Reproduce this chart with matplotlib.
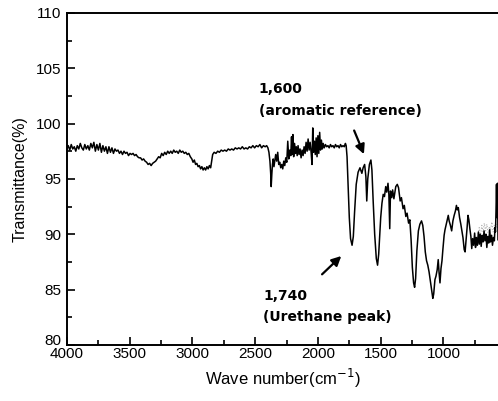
import matplotlib

matplotlib.use("Agg")
import matplotlib.pyplot as plt
from matplotlib.ticker import MultipleLocator
from matplotlib.transforms import ScaledTranslation

# FTIR spectrum, wavenumber (cm-1) / transmittance (%)
wavenumber = [
    4000, 3988, 3976, 3964, 3952, 3940, 3928, 3916, 3904, 3892,
    3880, 3868, 3856, 3844, 3832, 3820, 3808, 3796, 3784, 3772,
    3760, 3748, 3736, 3724, 3712, 3700, 3688, 3676, 3664, 3652,
    3640, 3628, 3616, 3604, 3592, 3580, 3568, 3556, 3544, 3532,
    3520, 3508, 3496, 3484, 3472, 3460, 3448, 3436, 3424, 3412,
    3400, 3388, 3376, 3364, 3352, 3340, 3328, 3316, 3304, 3292,
    3280, 3268, 3256, 3244, 3232, 3220, 3208, 3196, 3184, 3172,
    3160, 3148, 3136, 3124, 3112, 3100, 3088, 3076, 3064, 3052,
    3040, 3028, 3016, 3004, 2994, 2984, 2974, 2964, 2954, 2944,
    2934, 2924, 2914, 2904, 2894, 2884, 2874, 2864, 2854, 2846,
    2838, 2826, 2812, 2798, 2784, 2770, 2756, 2742, 2728, 2714,
    2700, 2686, 2672, 2658, 2644, 2630, 2616, 2602, 2588, 2574,
    2560, 2546, 2532, 2518, 2504, 2490, 2476, 2462, 2448, 2434,
    2420, 2408, 2398, 2390, 2382, 2376, 2372, 2367, 2362, 2356,
    2350, 2344, 2336, 2328, 2320, 2312, 2304, 2296, 2288, 2280,
    2272, 2264, 2256, 2248, 2240, 2232, 2224, 2216, 2210, 2205,
    2199, 2193, 2186, 2179, 2172, 2165, 2158, 2150, 2142, 2134,
    2126, 2118, 2110, 2102, 2094, 2086, 2078, 2070, 2062, 2054,
    2047, 2041, 2035, 2028, 2021, 2014, 2007, 2000, 1993, 1986,
    1979, 1972, 1965, 1958, 1950, 1940, 1930, 1920, 1910, 1900,
    1890, 1880, 1870, 1860, 1850, 1840, 1830, 1820, 1810, 1800,
    1790, 1781, 1775, 1768, 1760, 1750, 1740, 1728, 1718, 1708,
    1695, 1680, 1665, 1650, 1640, 1628, 1618, 1611, 1603, 1590,
    1578, 1570, 1560, 1548, 1535, 1525, 1516, 1500, 1490, 1480,
    1470, 1460, 1452, 1442, 1435, 1428, 1422, 1412, 1405, 1395,
    1380, 1368, 1358, 1345, 1335, 1322, 1312, 1300, 1290, 1278,
    1268, 1258, 1248, 1238, 1230, 1222, 1212, 1200, 1188, 1175,
    1165, 1155, 1145, 1135, 1125, 1115, 1105, 1095, 1085, 1078,
    1068, 1060, 1050, 1042, 1035, 1028, 1020, 1012, 1005, 995,
    988, 978, 970, 962, 955, 945, 935, 925, 915, 905,
    897, 890, 882, 872, 862, 855, 845, 835, 828, 820,
    812, 805, 798, 790, 782, 775, 768, 760, 752, 745,
    738, 730, 722, 715, 708, 700, 692, 685, 677, 670,
    662, 655, 647, 640, 632, 625, 617, 610, 602, 595,
    590, 586, 582, 578, 574, 570, 566,
]
transmittance = [
    97.7, 98.0, 97.6, 98.1, 97.7, 97.9, 97.5, 98.0, 97.7, 98.2,
    97.8, 97.6, 98.1, 97.7, 98.0, 97.6, 98.2, 97.8, 98.3, 97.5,
    98.1, 97.6, 98.2, 97.4, 98.0, 97.5, 97.9, 97.3, 97.9, 97.4,
    97.8, 97.3, 97.7, 97.5, 97.6, 97.3, 97.5, 97.2, 97.5, 97.3,
    97.4, 97.1, 97.3, 97.2, 97.3, 97.1, 97.2, 97.0, 96.9, 96.9,
    96.7, 96.8, 96.6, 96.5, 96.3, 96.4, 96.2, 96.4, 96.5, 96.6,
    96.8, 97.0, 96.9, 97.3, 97.1, 97.4, 97.2, 97.5, 97.3, 97.5,
    97.3, 97.6, 97.4, 97.5, 97.3, 97.6, 97.4, 97.5, 97.3, 97.4,
    97.2, 97.3, 97.0, 96.8, 96.5, 96.7, 96.3, 96.4, 96.1, 96.2,
    95.9, 96.1, 95.8, 96.0, 95.8, 96.1, 95.9, 96.2, 96.0, 96.6,
    97.2, 97.4, 97.3, 97.5, 97.4, 97.6, 97.5, 97.6, 97.5, 97.7,
    97.6, 97.7, 97.6, 97.8, 97.7, 97.8, 97.7, 97.9, 97.7, 97.8,
    97.7, 97.9, 97.8, 98.0, 97.8, 98.0, 97.9, 98.1, 97.8, 98.0,
    97.9, 98.0, 97.8, 97.4, 96.6, 95.5, 94.3, 95.4, 96.3, 96.8,
    96.1, 96.6, 97.2, 96.6, 97.4, 96.3, 96.5, 96.0, 96.3, 95.9,
    96.6, 96.2, 96.9, 96.5, 98.4, 96.8, 97.6, 97.1, 98.8, 97.2,
    99.0, 97.0, 98.2, 97.3, 97.9, 97.1, 98.0, 97.2, 97.7, 96.9,
    97.6, 97.1, 97.9, 97.3, 98.3, 97.5, 98.6, 97.6, 98.3, 97.4,
    96.3, 99.6, 97.4, 98.4, 97.2, 98.7, 97.0, 98.9, 97.3, 99.2,
    97.6, 98.5, 97.7, 98.2, 97.8, 98.1, 97.9, 98.0, 97.8, 98.1,
    97.9, 98.0, 97.8, 98.1, 97.9, 98.0, 97.8, 98.1, 97.9, 98.0,
    97.9, 98.2, 98.0, 97.0, 94.5, 91.5, 89.6, 89.0, 89.8, 92.0,
    94.5, 95.6, 96.0, 95.5, 96.0, 96.3, 95.2, 93.0, 95.0, 96.3,
    96.7, 95.8, 93.0, 90.0, 87.8, 87.2, 88.2, 91.5, 92.8, 93.6,
    93.4, 94.3, 93.8, 94.6, 93.6, 90.5, 93.9, 93.3, 94.0, 93.2,
    94.3, 94.5, 94.2, 93.0, 93.3, 92.3, 92.6, 91.6, 91.9, 91.0,
    91.3, 89.5, 87.0, 85.6, 85.2, 86.0, 88.5, 90.3, 90.9, 91.2,
    90.8, 89.8, 88.4, 87.6, 87.2, 86.6, 85.8, 85.0, 84.2, 84.6,
    85.9, 86.2, 86.8, 87.7, 86.5, 85.6, 86.9, 87.6, 88.6, 89.9,
    90.4, 90.9, 91.3, 91.7, 91.2, 90.8, 90.3, 91.2, 91.7, 92.1,
    92.6, 92.2, 92.4, 91.5, 90.9, 90.4, 89.7, 88.6, 88.4, 89.5,
    90.6, 91.7, 91.3, 90.5, 89.8, 88.7, 89.6, 89.0, 90.1, 88.8,
    89.7, 89.0, 90.2, 89.1, 90.0, 88.9, 89.9, 89.3, 90.3, 89.4,
    90.0, 88.8, 89.8, 89.2, 90.4, 89.3, 89.9, 89.0, 89.7, 89.4,
    90.6, 90.2, 92.0, 94.5, 91.5, 94.6, 89.5,
]

# faint second trace visible at the low-wavenumber end
overlay_wavenumber = [725, 715, 705, 695, 685, 675, 665, 655, 645, 635,
                      625, 615, 605, 595, 585, 575, 566]
overlay_transmittance = [90.0, 90.6, 89.8, 90.8, 90.2, 91.0, 90.3, 90.9, 90.1, 90.7,
                         90.4, 91.1, 90.2, 90.8, 90.5, 90.9, 90.3]

plt.rcParams["font.family"] = ["Liberation Sans", "DejaVu Sans"]

fig = plt.figure(figsize=(4.98, 4.01), dpi=100)
ax = fig.add_axes([0.134, 0.140, 0.866, 0.828])

ax.plot(overlay_wavenumber, overlay_transmittance, color="#b0b0b0", lw=0.8, ls=":")
ax.plot(wavenumber, transmittance, color="black", lw=1.1)

ax.set_xlim(4000, 566)
ax.set_ylim(80, 110)
ax.xaxis.set_major_locator(MultipleLocator(500))
ax.xaxis.set_minor_locator(MultipleLocator(250))
ax.yaxis.set_major_locator(MultipleLocator(5))
ax.yaxis.set_minor_locator(MultipleLocator(2.5))
ax.tick_params(which="both", direction="in", width=1.2, labelsize=11, top=False, right=False)
ax.tick_params(which="major", length=5.5)
ax.tick_params(which="minor", length=3.5)
ax.tick_params(axis="x", pad=1.5)
ax.tick_params(axis="y", pad=4)

for side in ("left", "bottom", "top"):
    ax.spines[side].set_linewidth(1.4)
ax.spines["right"].set_visible(False)

ax.set_xlabel("Wave number(cm$^{-1}$)", fontsize=12, labelpad=4)
ax.set_ylabel("Transmittance(%)", fontsize=11.5, labelpad=6)

# peak annotations
bold = dict(fontsize=10, fontweight="bold", family="DejaVu Sans", ha="left", va="center")
ax.text(2470, 103.1, "1,600", **bold)
ax.text(2470, 101.1, "(aromatic reference)", **bold)
ax.annotate("", xy=(1625, 97.0), xytext=(1720, 99.6),
            arrowprops=dict(arrowstyle="-|>", color="black", lw=1.6, mutation_scale=14))

ax.text(2435, 84.4, "1,740", **bold)
ax.text(2435, 82.5, "(Urethane peak)", **bold)
ax.annotate("", xy=(1798, 88.2), xytext=(1983, 86.2),
            arrowprops=dict(arrowstyle="-|>", color="black", lw=1.6, mutation_scale=14))

# lift the bottom "80" label a little so it clears the "4000" below it
fig.canvas.draw()
for tick in ax.yaxis.get_major_ticks():
    if abs(tick.get_loc() - 80) < 1e-6:
        lab = tick.label1
        lab.set_transform(lab.get_transform() + ScaledTranslation(0, 4 / 72, fig.dpi_scale_trans))

fig.savefig("out.png", dpi=100)
